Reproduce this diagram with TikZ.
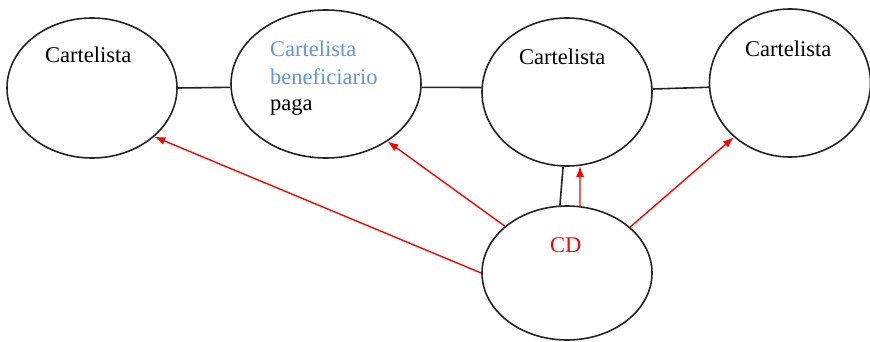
\documentclass[tikz,border=0pt]{standalone}
\usepackage{fontspec}
\setmainfont{Liberation Serif}
\newfontfamily\labelserif{Liberation Serif}
\usetikzlibrary{shapes.geometric,arrows.meta}
\definecolor{lineblack}{RGB}{35,35,35}
\definecolor{benblue}{RGB}{95,150,225}
\definecolor{cdred}{RGB}{255,0,0}
\tikzset{
  oval/.style={ellipse, draw=lineblack, line width=1.6pt, inner sep=0pt},
  lbl/.style={anchor=base west, inner sep=0pt, font=\labelserif\fontsize{22.5}{27}\selectfont},
  link/.style={draw=lineblack, line width=1.6pt},
  redarrow/.style={draw=cdred, line width=1.4pt, -{Latex[length=11pt,width=8pt]}}
}
\begin{document}
\begin{tikzpicture}[x=1pt,y=-1pt]
\useasboundingbox (0,0) rectangle (870,342);
\node[oval, minimum width=170pt, minimum height=140pt] (e1) at (92,88) {};
\node[oval, minimum width=190pt, minimum height=148pt] (e2) at (326,84) {};
\node[oval, minimum width=170pt, minimum height=148pt] (e3) at (567,92) {};
\node[oval, minimum width=161pt, minimum height=148pt] (e4) at (790,83) {};
\node[oval, minimum width=170pt, minimum height=134pt] (cd) at (567,273) {};

\node[lbl] (t1) at (45,63) {Cartelista};
\node[lbl, text=benblue] (t2a) at (270,57) {Cartelista};
\node[lbl, text=benblue] (t2b) at (270,85) {beneficiario};
\node[lbl] (t2c) at (270,111) {paga};
\node[lbl] (t3) at (519,65) {Cartelista};
\node[lbl] (t4) at (745,57) {Cartelista};
\node[lbl, text=cdred] (tcd) at (550,252) {CD};

\draw[link] (e1.east) -- (e2.182.4);
\draw[link] (e2.-2.4) -- (e3.177.3);
\draw[link] (e3.2.7) -- (e4.183.6);
\draw[link] (e3.-93.9) -- (cd.96.8);

\draw[redarrow] (cd.79.75) -- (e3.-80.7);
\draw[redarrow] (cd.west) -- (e1.-38);
\draw[redarrow] (cd.143.4) -- (e2.-43);
\draw[redarrow] (cd.36) -- (e4.-136);
\end{tikzpicture}
\end{document}
